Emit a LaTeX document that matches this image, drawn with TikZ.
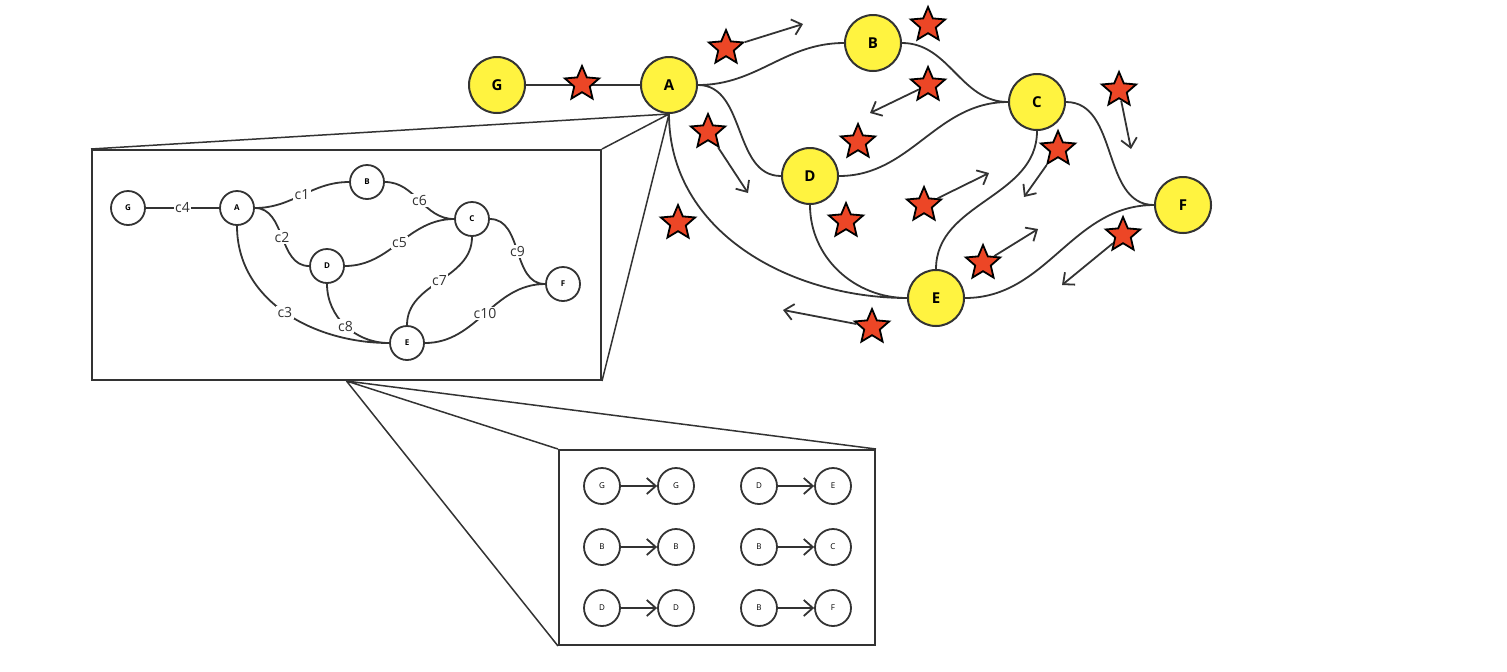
\documentclass[tikz,border=0pt]{standalone}
\usepackage{fontspec}
\setmainfont{Open Sans}
\usepackage{tikz}
\usetikzlibrary{shapes.geometric, positioning, arrows.meta}
\definecolor{hiyellow}{RGB}{255,243,64}
\definecolor{starred}{RGB}{236,70,38}
\definecolor{inkgray}{RGB}{51,51,51}
\tikzset{
>={Straight Barb[length=4.5pt, width=8pt]}, % open arrow heads
big/.style={circle, draw=inkgray, line width=1pt, fill=hiyellow, minimum size=28pt, inner sep=0pt, font=\fontsize{7.5}{8}\selectfont\bfseries}, % nodes of the main graph
mini/.style={circle, draw=inkgray, line width=0.9pt, fill=white, minimum size=17pt, inner sep=0pt, font=\fontsize{4}{5}\selectfont\bfseries}, % nodes of the zoomed graph
pair/.style={mini, minimum size=18pt, font=\fontsize{4}{5}\selectfont}, % nodes of the mapping box
bonus/.style={star, star points=5, star point ratio=2.2, draw=black, line width=0.9pt, fill=starred, minimum size=18pt, inner sep=0pt}, % the stars
link/.style={draw=inkgray, line width=0.9pt},
lbl/.style={fill=white, inner sep=0.8pt, text=inkgray, font=\fontsize{7}{8}\selectfont}, % edge names
zoombox/.style={draw=inkgray, line width=1pt, inner sep=0pt},
}

\begin{document}
\begin{tikzpicture}[x=0.5pt, y=-0.5pt]
      \useasboundingbox (0,0) rectangle (1507,671);
      % main graph
      \node[big] (G) at (497,85) {G};
      \node[big] (A) at (669,85) {A};
      \node[big] (B) at (873,43) {B};
      \node[big] (C) at (1037,102) {C};
      \node[big] (D) at (810,176) {D};
      \node[big] (E) at (936,298) {E};
      \node[big] (F) at (1183,205) {F};

      \draw[link] (G) -- (A)
      (A) to[out=0, in=180] (B)
      (A) to[out=0, in=180] (D)
      (A) to[out=-90, in=180] (E)
      (B) to[out=0, in=180] (C)
      (D) to[out=0, in=180] (C)
      (D) to[out=-90, in=180] (E)
      (C) to[out=-90, in=90] (E)
      (C) to[out=0, in=180] (F)
      (E) to[out=0, in=180] (F);

      % stars and their moves
      \node[bonus] (s1) at (582,84) {};
      \node[bonus] (s2) at (726,48) {};
      \node[bonus] (s3) at (708,132) {};
      \node[bonus] (s4) at (678,223) {};
      \node[bonus] (s5) at (928,25) {};
      \node[bonus] (s6) at (928,85) {};
      \node[bonus] (s7) at (858,142) {};
      \node[bonus] (s8) at (1058,149) {};
      \node[bonus] (s9) at (1119,90) {};
      \node[bonus] (s10) at (924,205) {};
      \node[bonus] (s11) at (846,221) {};
      \node[bonus] (s12) at (983,263) {};
      \node[bonus] (s13) at (1123,235) {};
      \node[bonus] (s14) at (872,327) {};

      \coordinate (t2) at (803,24);
      \coordinate (t3) at (748,193);
      \coordinate (t6) at (870,113);
      \coordinate (t8) at (1024,197);
      \coordinate (t9) at (1131,149);
      \coordinate (t10) at (989,173);
      \coordinate (t12) at (1038,229);
      \coordinate (t13) at (1062,285);
      \coordinate (t14) at (783,310);

      \draw[link, ->] (s2) edge (t2)
      (s3) edge (t3)
      (s6) edge (t6)
      (s8) edge (t8)
      (s9) edge (t9)
      (s10) edge (t10)
      (s12) edge (t12)
      (s13) edge (t13)
      (s14) edge (t14);

      % zoom boxes
      \node[zoombox, minimum width=254.5pt, minimum height=115pt] (zoomL) at (346.5,265) {};
      \node[zoombox, minimum width=158pt, minimum height=97.5pt] (zoomR) at (717,547.5) {};

      \draw[link, line width=0.75pt] (A.south) -- (zoomL.north west)
      (A.south) -- (zoomL.north east)
      (A.south) -- (zoomL.south east);
      \draw[link, line width=0.75pt] (zoomL.south) -- (zoomR.north west)
      (zoomL.south) -- (zoomR.north east)
      (zoomL.south) -- (zoomR.south west);

      % graph with named edges
      \node[mini] (g) at (128,208) {G};
      \node[mini] (a) at (237,208) {A};
      \node[mini] (b) at (367,182) {B};
      \node[mini] (c) at (472,219) {C};
      \node[mini] (d) at (327,266) {D};
      \node[mini] (e) at (407,343) {E};
      \node[mini] (f) at (563,284) {F};

      \draw[link] (g) -- node[lbl] {c4} (a)
      (a) to[out=0, in=180] node[lbl] {c1} (b)
      (a) to[out=0, in=180] node[lbl] {c2} (d)
      (a) to[out=-90, in=180] node[lbl] {c3} (e)
      (b) to[out=0, in=180] node[lbl] {c6} (c)
      (d) to[out=0, in=180] node[lbl] {c5} (c)
      (d) to[out=-90, in=180] node[lbl] {c8} (e)
      (c) to[out=-90, in=90] node[lbl] {c7} (e)
      (c) to[out=0, in=180] node[lbl] {c9} (f)
      (e) to[out=0, in=180] node[lbl] {c10} (f);

      % mapping box
      \node[pair] (p1) at (602,486) {G};
      \node[pair] (q1) at (676,486) {G};
      \node[pair] (p2) at (602,547) {B};
      \node[pair] (q2) at (676,547) {B};
      \node[pair] (p3) at (602,608) {D};
      \node[pair] (q3) at (676,608) {D};
      \node[pair] (p4) at (759,486) {D};
      \node[pair] (q4) at (833,486) {E};
      \node[pair] (p5) at (759,547) {B};
      \node[pair] (q5) at (833,547) {C};
      \node[pair] (p6) at (759,608) {B};
      \node[pair] (q6) at (833,608) {F};

      \draw[link, ->] (p1) edge (q1)
      (p2) edge (q2)
      (p3) edge (q3)
      (p4) edge (q4)
      (p5) edge (q5)
      (p6) edge (q6);
    \end{tikzpicture}
\end{document}
